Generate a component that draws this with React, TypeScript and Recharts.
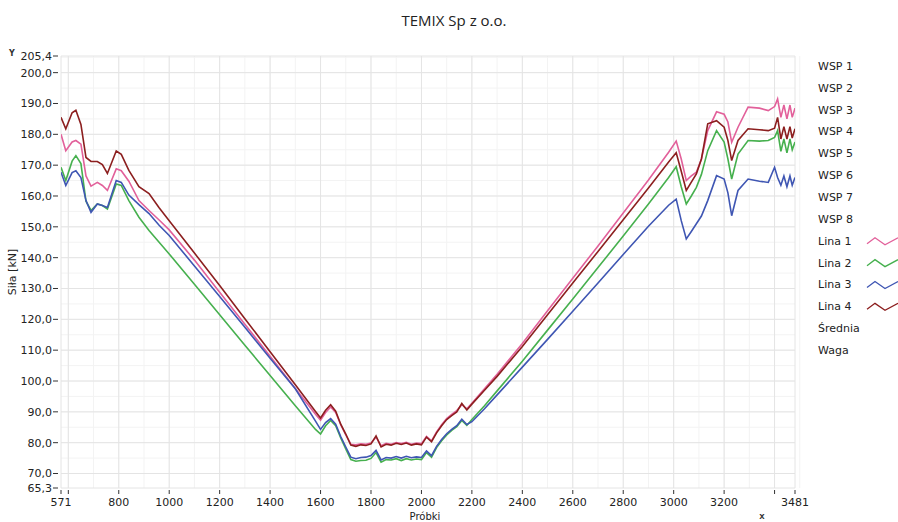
import React from 'react'
import { LineChart, Line, XAxis, YAxis, CartesianGrid } from 'recharts'

// numery próbek (wspólna oś X dla wszystkich lin)
const probki = [
  571, 590, 615, 630, 650, 670, 690, 715, 735, 755, 790, 810, 840, 880, 920, 960, 1000, 1100, 1200, 1300, 1400, 1500, 1580,
  1600, 1620, 1640, 1660, 1680, 1700, 1720, 1740, 1760, 1780, 1800, 1820, 1840, 1860, 1880, 1900, 1920, 1940, 1960, 1980,
  2000, 2020, 2040, 2060, 2080, 2100, 2120, 2140, 2160, 2180, 2200,
  2250, 2300, 2400, 2500, 2600, 2700, 2800, 2900, 2980, 3010,
  3030, 3050, 3070, 3090, 3110, 3135, 3170, 3200, 3215, 3230, 3255, 3295, 3340, 3375, 3400, 3412, 3425, 3437, 3449, 3461, 3470, 3481,
]

const lina1 = [
  180, 174.7, 177.5, 178, 176.8, 166.5, 163.2, 164.4, 163.4, 161.8, 168.8, 168.2, 164.8, 158.5, 155.3, 152.2, 149, 139.2, 128.8, 118.4, 108, 97.6, 89.2,
  87.3, 89.8, 91.6, 89.8, 85.8, 82.5, 79.5, 79.3, 79.6, 79.5, 79.9, 81.8, 79, 79.8, 79.5, 80, 79.7, 80.1, 79.5, 79.9,
  79.7, 82, 80.6, 83.5, 85.8, 87.8, 89.2, 90.4, 92.3, 91, 92.8,
  97.5, 102.2, 112.2, 122.8, 133.3, 143.8, 154.5, 165.2, 174.2, 177.8,
  172, 165, 166.5, 167.7, 172, 181.2, 187.3, 186.5, 184, 177.4, 182.3, 188.8, 188.5, 187.7, 189, 191.5, 185.5, 189.5, 185, 189.5, 185.5, 188.5,
]

const lina2 = [
  169.3, 165, 171.3, 173.1, 170.5, 158.3, 155.3, 157.4, 156.9, 155.8, 163.9, 163.4, 158.5, 153.1, 148.8, 145, 141.2, 131.4, 121.5, 111.6, 101.8, 92, 84.3,
  82.8, 85.5, 87.2, 85.5, 81.5, 78, 74.5, 74, 74.2, 74.3, 74.9, 76.8, 73.7, 74.5, 74.4, 74.8, 74.2, 74.8, 74.4, 74.7,
  74.5, 76.8, 75.3, 78.4, 80.6, 82.5, 84, 85.2, 87.2, 85.6, 87.5,
  92, 96.8, 106.4, 116.5, 126.6, 136.8, 147, 157.4, 166, 169.5,
  163, 157.4, 160, 162.8, 167, 174.7, 181.2, 177.5, 172, 165.5, 173.6, 178, 177.8, 178, 179, 181.2, 174.5, 178.5, 174, 178.5, 175, 177.5,
]

const lina3 = [
  167.7, 163.4, 167.6, 168.2, 166, 158.5, 154.7, 157.4, 156.9, 156.3, 165, 164.4, 160.3, 157.2, 154.3, 150.5, 147.2, 137.3, 127.4, 117.4, 107.4, 97.5, 87,
  84.3, 86.5, 87.8, 86, 82, 78.6, 75.3, 74.8, 75.2, 75.3, 75.8, 77.5, 74.4, 75.2, 75, 75.5, 75, 75.6, 75.1, 75.4,
  75.2, 77.3, 75.8, 78.8, 81, 82.9, 84.3, 85.5, 87.6, 85.9, 86.8,
  91, 95.5, 104.5, 113.5, 122.6, 131.8, 141, 150.2, 157, 159,
  152, 146.1, 148.5, 151, 153.5, 158.5, 166.6, 165.5, 161, 153.6, 161.8, 165.5, 164.8, 164.4, 169.3, 166, 163.5, 166.5, 163, 166.5, 163.5, 166,
]

const lina4 = [
  185.5, 181.8, 187, 187.8, 183.2, 172.5, 171.2, 171.2, 170.2, 167.3, 174.6, 173.5, 168.3, 163, 160.8, 156.2, 152, 141.5, 131, 120.2, 109.5, 98.8, 90.1,
  88, 90.5, 92.3, 90.2, 86, 82.8, 79.2, 78.8, 79.3, 79.1, 79.6, 82.2, 78.6, 79.5, 79.2, 79.8, 79.4, 79.9, 79.2, 79.6,
  79.3, 81.8, 80.3, 83.2, 85.5, 87.5, 88.8, 90, 92.7, 90.6, 92.5,
  97, 101.5, 111.2, 121.5, 131.8, 142, 152.3, 162.6, 171, 174,
  168, 161.8, 164.5, 167.2, 172, 183.4, 184.4, 182.3, 178, 171.5, 178, 181.8, 181.5, 181.2, 182, 185.5, 178.5, 182.5, 178.5, 182.5, 178.8, 181.8,
]

const xTicks = [571, 600, 800, 1000, 1200, 1400, 1600, 1800, 2000, 2200, 2400, 2600, 2800, 3000, 3200, 3400, 3481]
const xBezEtykiety = [600, 3400]
const yTicks = [65.3, 70, 80, 90, 100, 110, 120, 130, 140, 150, 160, 170, 180, 190, 200, 205.4]

const legendaNazwy = ['WSP 1', 'WSP 2', 'WSP 3', 'WSP 4', 'WSP 5', 'WSP 6', 'WSP 7', 'WSP 8', 'Lina 1', 'Lina 2', 'Lina 3', 'Lina 4', 'Średnia', 'Waga']

const serie = [
  { key: 'lina1', name: 'Lina 1', color: '#e2609a' },
  { key: 'lina2', name: 'Lina 2', color: '#46b04e' },
  { key: 'lina3', name: 'Lina 3', color: '#3f56b3' },
  { key: 'lina4', name: 'Lina 4', color: '#8c1f1f' },
]

const FONT = "'DejaVu Sans', Verdana, sans-serif"

const data = probki.map((p, i) => ({
  probka: p,
  lina1: lina1[i],
  lina2: lina2[i],
  lina3: lina3[i],
  lina4: lina4[i],
}))

// siatka pomocnicza
const xMinor = Array.from({ length: 30 }, (_, i) => 600 + i * 100)
const yMinor = Array.from({ length: 28 }, (_, i) => 70 + i * 5)

function XTick(props: any) {
  const { x, y, payload } = props
  const hidden = xBezEtykiety.includes(payload.value)
  return (
    <g>
      <line x1={x} x2={x} y1={y + 2} y2={y + 6} stroke="#333" strokeWidth={1} />
      {!hidden && (
        <text x={x} y={y + 18} textAnchor="middle" fontSize={11} fontFamily={FONT} fill="#222">
          {payload.value}
        </text>
      )}
    </g>
  )
}

function YTick(props: any) {
  const { x, y, payload } = props
  return (
    <g>
      <line x1={x - 8} x2={x - 3} y1={y} y2={y} stroke="#333" strokeWidth={1} />
      <text x={x - 9} y={y} dy="0.35em" textAnchor="end" fontSize={11} fontFamily={FONT} fill="#222">
        {Number(payload.value).toFixed(1).replace('.', ',')}
      </text>
    </g>
  )
}

export default function App() {
  return (
    <div style={{ position: 'absolute', left: 0, top: 0, width: 898, height: 522, background: '#fff', overflow: 'hidden' }}>
      <LineChart width={898} height={522} data={data} margin={{ top: 56, right: 103, bottom: 0, left: 0 }}>
        <CartesianGrid stroke="#f3f3f3" horizontalValues={yMinor} verticalValues={xMinor} />
        <CartesianGrid stroke="#e4e4e4" horizontalValues={yTicks} verticalValues={xTicks} />
        <XAxis
          dataKey="probka"
          type="number"
          domain={[571, 3481]}
          ticks={xTicks}
          interval={0}
          height={34}
          axisLine={false}
          tickLine={false}
          tickSize={0}
          tickMargin={0}
          tick={<XTick />}
          allowDataOverflow
        />
        <YAxis
          type="number"
          domain={[65.3, 205.4]}
          ticks={yTicks}
          interval={0}
          width={61}
          axisLine={false}
          tickLine={false}
          tickSize={0}
          tickMargin={0}
          tick={<YTick />}
          allowDataOverflow
        />
        {serie.map((s) => (
          <Line
            key={s.key}
            type="linear"
            dataKey={s.key}
            name={s.name}
            stroke={s.color}
            strokeWidth={1.6}
            dot={false}
            isAnimationActive={false}
          />
        ))}
      </LineChart>
      <svg width={898} height={522} style={{ position: 'absolute', left: 0, top: 0, pointerEvents: 'none' }}>
        <text x={454} y={26} textAnchor="middle" fontSize={15} fontFamily="'Open Sans', sans-serif" fill="#222">
          TEMIX Sp z o.o.
        </text>
        <text x={12} y={56} textAnchor="middle" fontSize={8} fontWeight="bold" fontFamily={FONT} fill="#333">Y</text>
        <text x={762} y={519} textAnchor="middle" fontSize={7} fontWeight="bold" fontFamily={FONT} fill="#333">X</text>
        <text
          x={12}
          y={272}
          textAnchor="middle"
          dy="0.35em"
          fontSize={11}
          fontFamily={FONT}
          fill="#222"
          transform="rotate(-90 12 272)"
        >
          Siła [kN]
        </text>
        <text x={425} y={520} textAnchor="middle" fontSize={10} fontFamily={FONT} fill="#222">Próbki</text>
        {legendaNazwy.map((n, i) => {
          const cy = 66 + i * 21.85
          const s = serie.find((z) => z.name === n)
          return (
            <g key={n}>
              <text x={818} y={cy} dy="0.35em" fontSize={11} fontFamily={FONT} fill="#222">{n}</text>
              {s && (
                <polyline
                  points={`${867},${cy + 3} ${875},${cy - 3} ${885},${cy + 4} ${898},${cy - 3}`}
                  fill="none"
                  stroke={s.color}
                  strokeWidth={1.3}
                />
              )}
            </g>
          )
        })}
      </svg>
    </div>
  )
}
